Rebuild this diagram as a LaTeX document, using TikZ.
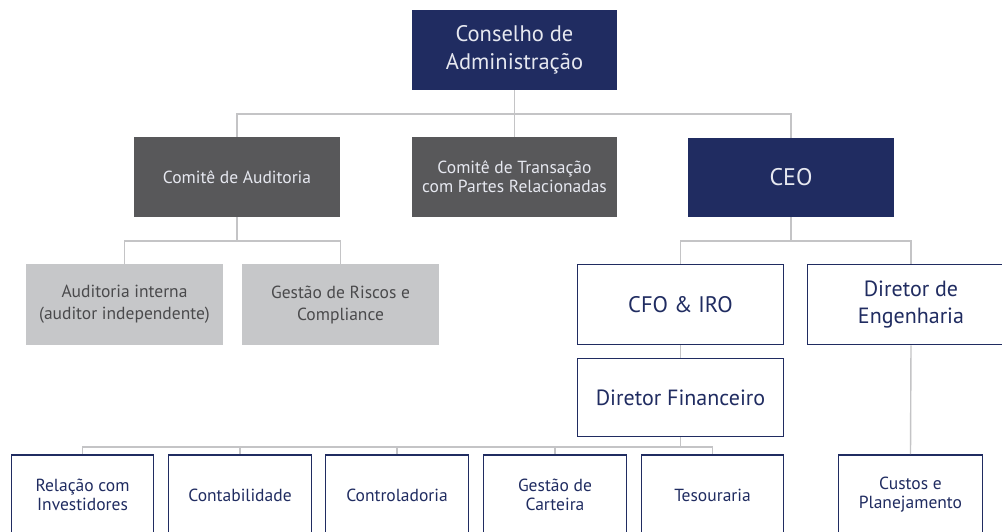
\documentclass[tikz,border=0pt]{standalone}
\usepackage{fontspec}
\setmainfont{PT Sans}
\definecolor{navy}{HTML}{202C61}
\definecolor{dgray}{HTML}{58585A}
\definecolor{lgray}{HTML}{C6C7C9}
\definecolor{lineg}{HTML}{C4C4C6}
\definecolor{txtg}{HTML}{4A4A4C}
\definecolor{wtxt}{HTML}{E6E8F0}
\tikzset{
  base/.style={rectangle, inner sep=0pt, align=center, font=\fontsize{17.5}{19}\selectfont},
  navybox/.style={base, fill=navy, text=wtxt},
  darkbox/.style={base, fill=dgray, text=wtxt},
  lightbox/.style={base, fill=lgray, text=txtg, font=\fontsize{17.5}{22}\selectfont},
  whitebox/.style={base, fill=white, draw=navy, line width=1.6pt, text=navy},
  conn/.style={draw=lineg, line width=1.4pt}
}
\begin{document}
\begin{tikzpicture}[x=1pt,y=-1pt]
\useasboundingbox (0,0) rectangle (1002,531);
\clip (0,0) rectangle (1002,531);
\fill[white] (0,0) rectangle (1002,531);
% top level
\node[navybox, minimum width=205, minimum height=80, font=\fontsize{22.5}{28}\selectfont] (cons) at (514.5,50) {Conselho de\\Administração};
% second row
\node[darkbox, minimum width=206, minimum height=80] (aud) at (237,177) {Comitê de Auditoria};
\node[darkbox, minimum width=205, minimum height=80] (trans) at (514.5,177) {Comitê de Transação\\com Partes Relacionadas};
\node[navybox, minimum width=206, minimum height=79, font=\fontsize{24}{28}\selectfont] (ceo) at (791,177.5) {CEO};
% third row
\node[lightbox, minimum width=197, minimum height=81] (ai) at (124.5,304.5) {Auditoria interna\\(auditor independente)};
\node[lightbox, minimum width=197, minimum height=81] (gr) at (340.5,304.5) {Gestão de Riscos e\\Compliance};
\node[whitebox, minimum width=206, minimum height=80, font=\fontsize{22.5}{27}\selectfont] (cfo) at (680.5,304.5) {CFO \& IRO};
\node[whitebox, minimum width=207, minimum height=80, font=\fontsize{22}{27}\selectfont] (eng) at (911,304.5) {Diretor de\\Engenharia};
\node[whitebox, minimum width=206, minimum height=78, font=\fontsize{22}{26}\selectfont] (df) at (680.5,397.5) {Diretor Financeiro};
% bottom row
\node[whitebox, minimum width=142, minimum height=80] (rel) at (82.5,495) {Relação com\\Investidores};
\node[whitebox, minimum width=143, minimum height=80] (cont) at (240,495) {Contabilidade};
\node[whitebox, minimum width=143, minimum height=80] (ctrl) at (397,495) {Controladoria};
\node[whitebox, minimum width=143, minimum height=80] (gc) at (555,495) {Gestão de\\Carteira};
\node[whitebox, minimum width=142, minimum height=80] (tes) at (712.5,495) {Tesouraria};
\node[whitebox, minimum width=144, minimum height=80] (cus) at (910.5,495) {Custos e\\Planejamento};
% bus coordinates
\coordinate (b1) at (514.5,114);
\coordinate (b2) at (791,241);
\coordinate (b3) at (237,241);
\coordinate (b4) at (680.5,447);
% connectors
\draw[conn] (cons.south) -- (trans.north);
\draw[conn] (aud.north) |- (b1) -| (ceo.north);
\draw[conn] (aud.south) -- (b3);
\draw[conn] (ai.north) |- (b3) -| (gr.north);
\draw[conn] (ceo.south) -- (b2);
\draw[conn] (cfo.north) |- (b2) -| (eng.north);
\draw[conn] (cfo.south) -- (df.north);
\draw[conn] (df.south) -- (b4);
\draw[conn] (rel.north) |- (b4) -| (tes.north);
\draw[conn] (cont.north) -- (cont.north |- b4);
\draw[conn] (ctrl.north) -- (ctrl.north |- b4);
\draw[conn] (gc.north) -- (gc.north |- b4);
\draw[conn] (eng.south) -- (cus.north);
\end{tikzpicture}
\end{document}
